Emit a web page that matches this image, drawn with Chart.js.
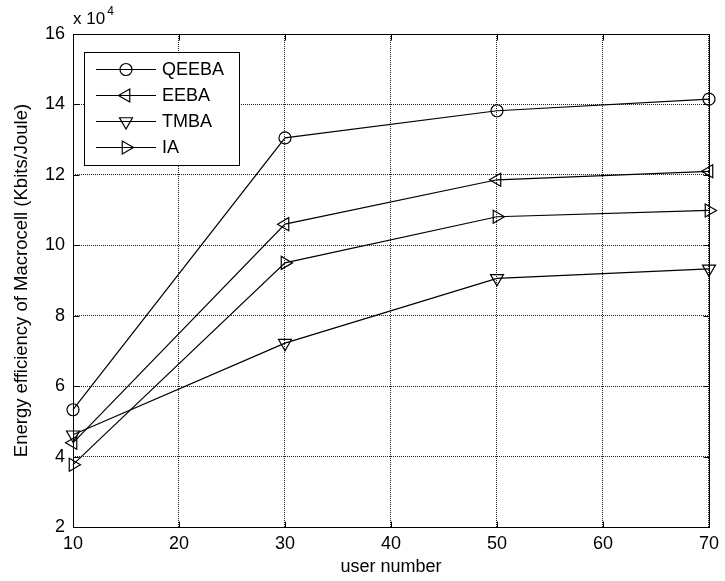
<!DOCTYPE html>
<html>
<head>
<meta charset="utf-8">
<script src="https://cdn.jsdelivr.net/npm/chart.js@4/dist/chart.umd.min.js"></script>
<style>
  html, body { margin: 0; padding: 0; background: #fff; }
  #wrap { width: 725px; height: 581px; }
</style>
</head>
<body>
<div id="wrap"><canvas id="ee-plot" width="725" height="581"></canvas></div>
<script>
// Energy efficiency vs user number (values in units of 1e4 Kbits/Joule)

const userNumbers = [10, 30, 50, 70];
const seriesNames = ["QEEBA", "EEBA", "TMBA", "IA"];
const qeebaValues = [5.33, 13.05, 13.82, 14.15];
const eebaValues  = [4.39, 10.6, 11.86, 12.1];
const tmbaValues  = [4.62, 7.22, 9.06, 9.33];
const iaValues    = [3.77, 9.5, 10.81, 10.99];
const xTicks = [10, 20, 30, 40, 50, 60, 70];
const yTicks = [2, 4, 6, 8, 10, 12, 14, 16];

const FONT = "'Liberation Sans', Arial, Helvetica, sans-serif";

// marker style per series, MATLAB-like open markers
const markers = [
    { pointStyle: "circle", rotation: 0, radius: 6 },
    { pointStyle: "triangle", rotation: -90, radius: 7.5 },
    { pointStyle: "triangle", rotation: 180, radius: 7.5 },
    { pointStyle: "triangle", rotation: 90, radius: 7.5 }
];

function makeDataset(name, values, i) {
    return {
        label: name,
        data: userNumbers.map((x, k) => ({ x: x, y: values[k] })),
        borderColor: "#000",
        borderWidth: 1.2,
        pointStyle: markers[i].pointStyle,
        rotation: markers[i].rotation,
        pointRadius: markers[i].radius,
        pointHoverRadius: markers[i].radius,
        pointBorderColor: "#000",
        pointBackgroundColor: "rgba(0,0,0,0)",
        pointBorderWidth: 1.2,
        tension: 0,
        fill: false,
        clip: false
    };
}

const allValues = [qeebaValues, eebaValues, tmbaValues, iaValues];

// frame with inner ticks, "x 10^4" and the boxed legend
const matlabDecor = {
    id: "matlabDecor",
    afterDatasetsDraw(chart) {
        const ctx = chart.ctx;
        const a = chart.chartArea;
        const xs = chart.scales.x, ys = chart.scales.y;
        ctx.save();
        ctx.strokeStyle = "#000";
        ctx.lineWidth = 1;
        ctx.setLineDash([]);
        const L = Math.round(a.left) + 0.5, R = Math.round(a.right) + 0.5;
        const T = Math.round(a.top) + 0.5, B = Math.round(a.bottom) + 0.5;
        ctx.strokeRect(L, T, R - L, B - T);

        // inner tick marks
        ctx.beginPath();
        xTicks.forEach(v => {
            const px = Math.round(xs.getPixelForValue(v)) + 0.5;
            ctx.moveTo(px, B); ctx.lineTo(px, B - 6);
            ctx.moveTo(px, T); ctx.lineTo(px, T + 6);
        });
        yTicks.forEach(v => {
            const py = Math.round(ys.getPixelForValue(v)) + 0.5;
            ctx.moveTo(L, py); ctx.lineTo(L + 6, py);
            ctx.moveTo(R, py); ctx.lineTo(R - 6, py);
        });
        ctx.stroke();

        // exponent label
        ctx.fillStyle = "#000";
        ctx.textBaseline = "alphabetic";
        ctx.textAlign = "left";
        ctx.font = "17px " + FONT;
        ctx.fillText("x 10", a.left, a.top - 10);
        const w = ctx.measureText("x 10").width;
        ctx.font = "12px " + FONT;
        ctx.fillText("4", a.left + w + 2, a.top - 19);

        // legend box
        const bx = 84.5, by = 52.5, bw = 155, bh = 113;
        ctx.fillStyle = "#fff";
        ctx.fillRect(bx, by, bw, bh);
        ctx.strokeRect(bx, by, bw, bh);
        const rowY = [68.5, 95, 121, 147];
        chart.data.datasets.forEach((ds, i) => {
            const y = Math.round(rowY[i]) + 0.5;
            ctx.beginPath();
            ctx.moveTo(96, y);
            ctx.lineTo(156, y);
            ctx.strokeStyle = "#000";
            ctx.lineWidth = 1.2;
            ctx.stroke();
            ctx.fillStyle = "rgba(0,0,0,0)";
            Chart.helpers.drawPoint(ctx, {
                pointStyle: markers[i].pointStyle,
                rotation: markers[i].rotation,
                radius: markers[i].radius,
                borderWidth: 1.2
            }, 126, y);
            ctx.fillStyle = "#000";
            ctx.font = "18px " + FONT;
            ctx.textAlign = "left";
            ctx.textBaseline = "middle";
            ctx.fillText(ds.label, 162, y + 1);
        });
        ctx.restore();
    }
};

const gridStyle = {
    color: "#222",
    lineWidth: 1,
    drawTicks: false
};

const config = {
    type: "line",
    data: {
        datasets: seriesNames.map((n, i) => makeDataset(n, allValues[i], i))
    },
    options: {
        responsive: false,
        animation: false,
        layout: { padding: { top: 34, right: 12, bottom: 0, left: 0 } },
        plugins: {
            legend: { display: false },
            tooltip: { enabled: false }
        },
        scales: {
            x: {
                type: "linear",
                min: 10,
                max: 70,
                grid: gridStyle,
                border: { display: false, dash: [1, 1] },
                afterBuildTicks: s => { s.ticks = xTicks.map(v => ({ value: v })); },
                afterFit: s => { s.height = 54; },
                ticks: {
                    color: "#000",
                    padding: 6,
                    maxRotation: 0,
                    font: { family: FONT, size: 18 }
                },
                title: {
                    display: true,
                    text: "user number",
                    color: "#000",
                    padding: { top: 0, bottom: 3 },
                    font: { family: FONT, size: 18 }
                }
            },
            y: {
                type: "linear",
                min: 2,
                max: 16,
                grid: gridStyle,
                border: { display: false, dash: [1, 1] },
                afterBuildTicks: s => { s.ticks = yTicks.map(v => ({ value: v })); },
                afterFit: s => { s.width = 73; },
                ticks: {
                    color: "#000",
                    padding: 8,
                    font: { family: FONT, size: 18 }
                },
                title: {
                    display: true,
                    text: "Energy efficiency of Macrocell (Kbits/Joule)",
                    color: "#000",
                    padding: { top: 11, bottom: 0 },
                    font: { family: FONT, size: 18.5 }
                }
            }
        }
    },
    plugins: [matlabDecor]
};

var eePlot = new Chart(document.getElementById("ee-plot"), config);
</script>
</body>
</html>
